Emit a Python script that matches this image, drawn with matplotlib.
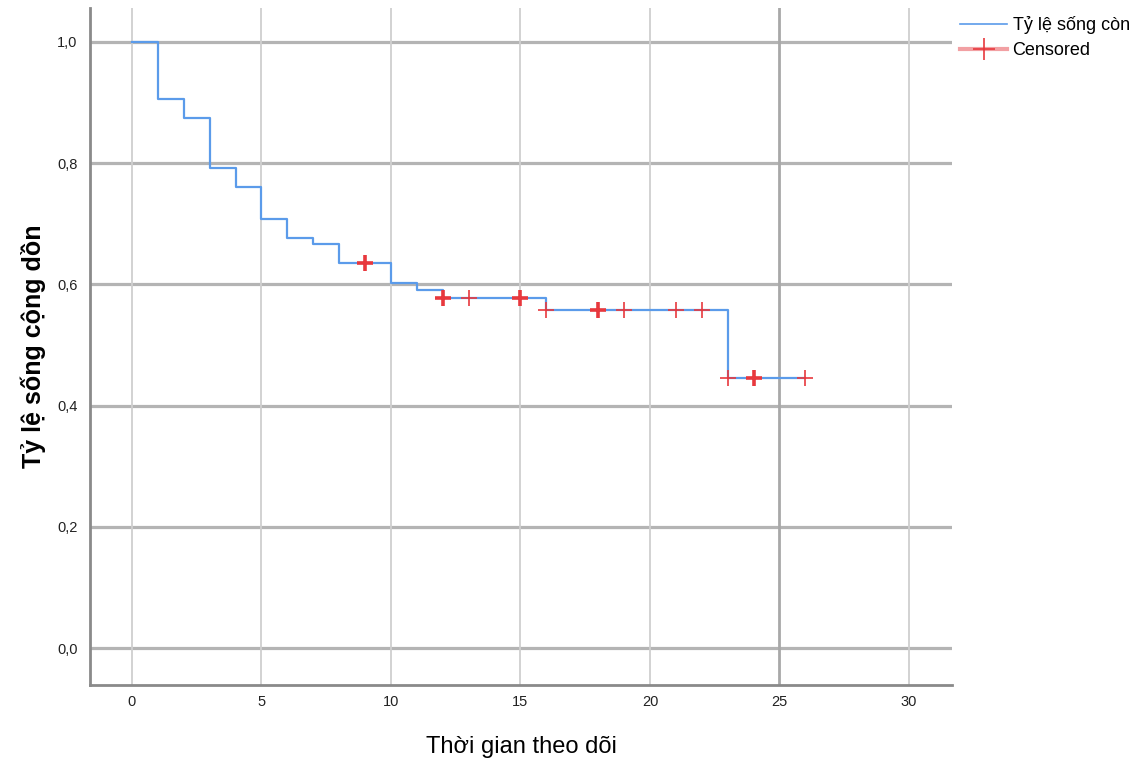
import matplotlib
matplotlib.use("Agg")
import matplotlib.pyplot as plt
from matplotlib.lines import Line2D

# Data
times = [0, 1, 2, 3, 4, 5, 6, 7, 8, 10, 11, 12, 16, 23, 26]
survival = [1.0, 0.906, 0.875, 0.792, 0.760, 0.708, 0.677, 0.667, 0.635,
            0.602, 0.590, 0.578, 0.557, 0.445, 0.445]
censor_times = [9, 12, 13, 15, 16, 18, 19, 21, 22, 23, 24, 26]
censor_surv = [0.635, 0.578, 0.578, 0.578, 0.557, 0.557, 0.557, 0.557, 0.557,
               0.445, 0.445, 0.445]
censor_counts = [2, 2, 1, 2, 1, 2, 1, 1, 1, 1, 2, 1]
x_ticks = [0, 5, 10, 15, 20, 25, 30]
y_ticks = [0.0, 0.2, 0.4, 0.6, 0.8, 1.0]
y_tick_labels = ["0,0", "0,2", "0,4", "0,6", "0,8", "1,0"]
x_label = "Thời gian theo dõi"
y_label = "Tỷ lệ sống cộng dồn"
legend_labels = ["Tỷ lệ sống còn", "Censored"]

plt.rcParams['font.family'] = ['Liberation Sans', 'DejaVu Sans']

fig = plt.figure(figsize=(11.33, 7.66), dpi=100)
ax = fig.add_axes([90/1133, 81/766, (952-90)/1133, (685-8)/766])

ax.set_xlim(-1.62, 31.66)
ax.set_ylim(-0.061, 1.056)

# grid
for yt in y_ticks:
    ax.axhline(yt, color="#b4b4b4", lw=2.3, zorder=1)
for xt in x_ticks:
    if xt == 25:
        ax.axvline(xt, color="#a8a8a8", lw=2.0, zorder=1)
    else:
        ax.axvline(xt, color="#cfcfcf", lw=1.3, zorder=1)

blue = "#5b9bea"
red = "#e8383d"
ax.plot(times, survival, drawstyle="steps-post", color=blue, lw=1.6, zorder=3)
for t, s, c in zip(censor_times, censor_surv, censor_counts):
    ax.plot([t], [s], marker="+", ms=11, mew=1.2 if c == 1 else 2.6,
            color=red, linestyle="none", zorder=4)

ax.set_xticks(x_ticks)
ax.set_xticklabels([str(v) for v in x_ticks])
ax.set_yticks(y_ticks)
ax.set_yticklabels(y_tick_labels)
ax.tick_params(length=0, labelsize=10.5, colors="#222222")
ax.tick_params(axis="x", pad=7)
ax.tick_params(axis="y", pad=9)

for side in ["top", "right"]:
    ax.spines[side].set_visible(False)
for side in ["left", "bottom"]:
    ax.spines[side].set_color("#8a8a8a")
    ax.spines[side].set_linewidth(2)

ax.set_xlabel(x_label, fontsize=17, labelpad=20)
ax.set_ylabel(y_label, fontsize=18, fontweight="bold", labelpad=8)

handles = [
    Line2D([0], [0], color=blue, lw=1.2),
    Line2D([0], [0], color="#f2a0a3", lw=3, marker="+", ms=16, mew=1.2,
           mec=red),
]
leg = fig.legend(handles, legend_labels, loc="upper left",
                 bbox_to_anchor=(953/1133, 1 - 9/766), frameon=False,
                 fontsize=13, handlelength=2.6, handletextpad=0.3,
                 labelspacing=0.45, borderaxespad=0)

fig.savefig("out.png", dpi=100)
